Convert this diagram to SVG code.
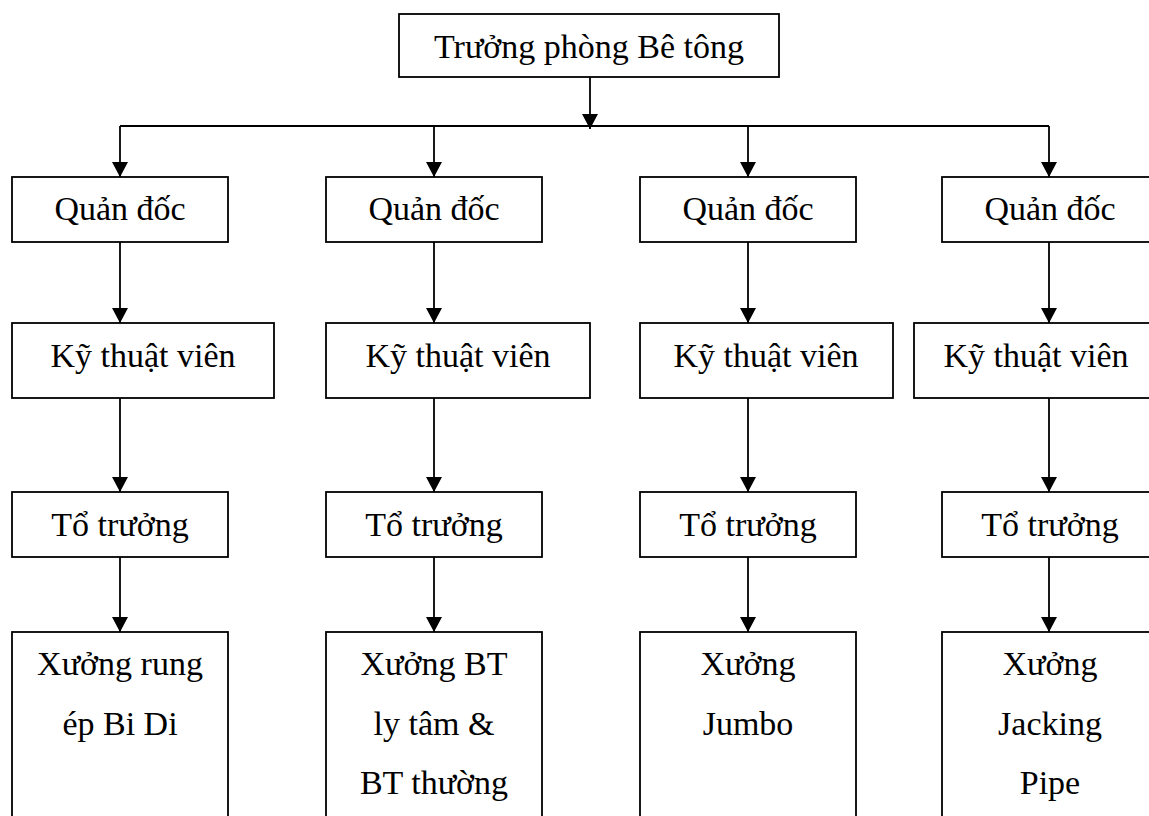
<svg xmlns="http://www.w3.org/2000/svg" width="1149" height="816" viewBox="0 0 1149 816">
  <style>
    .box { fill: #ffffff; stroke: #000000; stroke-width: 1.8; }
    .lbl { font-family: 'Liberation Serif', 'DejaVu Serif', serif; font-size: 34px; fill: #000000; text-anchor: middle; }
    .link { fill: none; stroke: #000000; stroke-width: 1.8; }
    .arr { marker-end: url(#head); }
  </style>
  <defs>
    <marker id="head" viewBox="0 0 15 16" markerWidth="15" markerHeight="16" refX="15" refY="8" orient="auto" markerUnits="userSpaceOnUse">
      <path d="M0,0 L15,8 L0,16 Z" fill="#000000"/>
    </marker>
  </defs>
  <rect width="1149" height="816" fill="#ffffff"/>

  <!-- connectors -->
  <g id="connectors">
    <line class="link arr" x1="590" y1="77" x2="590" y2="129"/>
    <line class="link" x1="120" y1="126" x2="1049" y2="126"/>
    <line class="link arr" x1="120" y1="126" x2="120" y2="177"/>
    <line class="link arr" x1="434" y1="126" x2="434" y2="177"/>
    <line class="link arr" x1="748" y1="126" x2="748" y2="177"/>
    <line class="link arr" x1="1049" y1="126" x2="1049" y2="177"/>

    <line class="link arr" x1="120" y1="242" x2="120" y2="323"/>
    <line class="link arr" x1="434" y1="242" x2="434" y2="323"/>
    <line class="link arr" x1="748" y1="242" x2="748" y2="323"/>
    <line class="link arr" x1="1049" y1="242" x2="1049" y2="323"/>

    <line class="link arr" x1="120" y1="398" x2="120" y2="492"/>
    <line class="link arr" x1="434" y1="398" x2="434" y2="492"/>
    <line class="link arr" x1="748" y1="398" x2="748" y2="492"/>
    <line class="link arr" x1="1049" y1="398" x2="1049" y2="492"/>

    <line class="link arr" x1="120" y1="557" x2="120" y2="632"/>
    <line class="link arr" x1="434" y1="557" x2="434" y2="632"/>
    <line class="link arr" x1="748" y1="557" x2="748" y2="632"/>
    <line class="link arr" x1="1049" y1="557" x2="1049" y2="632"/>
  </g>

  <!-- head of department -->
  <g id="truong-phong">
    <rect class="box" x="399" y="14" width="380" height="63"/>
    <text class="lbl" x="589" y="58">Trưởng phòng Bê tông</text>
  </g>

  <!-- foremen -->
  <g id="quan-doc-1">
    <rect class="box" x="12" y="177" width="216" height="65"/>
    <text class="lbl" x="120" y="220">Quản đốc</text>
  </g>
  <g id="quan-doc-2">
    <rect class="box" x="326" y="177" width="216" height="65"/>
    <text class="lbl" x="434" y="220">Quản đốc</text>
  </g>
  <g id="quan-doc-3">
    <rect class="box" x="640" y="177" width="216" height="65"/>
    <text class="lbl" x="748" y="220">Quản đốc</text>
  </g>
  <g id="quan-doc-4">
    <rect class="box" x="942" y="177" width="220" height="65"/>
    <text class="lbl" x="1050" y="220">Quản đốc</text>
  </g>

  <!-- technicians -->
  <g id="ky-thuat-vien-1">
    <rect class="box" x="12" y="323" width="262" height="75"/>
    <text class="lbl" x="143" y="367">Kỹ thuật viên</text>
  </g>
  <g id="ky-thuat-vien-2">
    <rect class="box" x="326" y="323" width="264" height="75"/>
    <text class="lbl" x="458" y="367">Kỹ thuật viên</text>
  </g>
  <g id="ky-thuat-vien-3">
    <rect class="box" x="640" y="323" width="253" height="75"/>
    <text class="lbl" x="766" y="367">Kỹ thuật viên</text>
  </g>
  <g id="ky-thuat-vien-4">
    <rect class="box" x="914" y="323" width="246" height="75"/>
    <text class="lbl" x="1036" y="367">Kỹ thuật viên</text>
  </g>

  <!-- team leaders -->
  <g id="to-truong-1">
    <rect class="box" x="12" y="492" width="216" height="65"/>
    <text class="lbl" x="120" y="536">Tổ trưởng</text>
  </g>
  <g id="to-truong-2">
    <rect class="box" x="326" y="492" width="216" height="65"/>
    <text class="lbl" x="434" y="536">Tổ trưởng</text>
  </g>
  <g id="to-truong-3">
    <rect class="box" x="640" y="492" width="216" height="65"/>
    <text class="lbl" x="748" y="536">Tổ trưởng</text>
  </g>
  <g id="to-truong-4">
    <rect class="box" x="942" y="492" width="220" height="65"/>
    <text class="lbl" x="1050" y="536">Tổ trưởng</text>
  </g>

  <!-- workshops -->
  <g id="xuong-1">
    <rect class="box" x="12" y="632" width="216" height="200"/>
    <text class="lbl" x="120" y="675">Xưởng rung</text>
    <text class="lbl" x="120" y="735">ép Bi Di</text>
  </g>
  <g id="xuong-2">
    <rect class="box" x="326" y="632" width="216" height="200"/>
    <text class="lbl" x="434" y="675">Xưởng BT</text>
    <text class="lbl" x="434" y="735">ly tâm &amp;</text>
    <text class="lbl" x="434" y="794">BT thường</text>
  </g>
  <g id="xuong-3">
    <rect class="box" x="640" y="632" width="216" height="200"/>
    <text class="lbl" x="748" y="675">Xưởng</text>
    <text class="lbl" x="748" y="735">Jumbo</text>
  </g>
  <g id="xuong-4">
    <rect class="box" x="942" y="632" width="220" height="200"/>
    <text class="lbl" x="1050" y="675">Xưởng</text>
    <text class="lbl" x="1050" y="735">Jacking</text>
    <text class="lbl" x="1050" y="794">Pipe</text>
  </g>
</svg>
